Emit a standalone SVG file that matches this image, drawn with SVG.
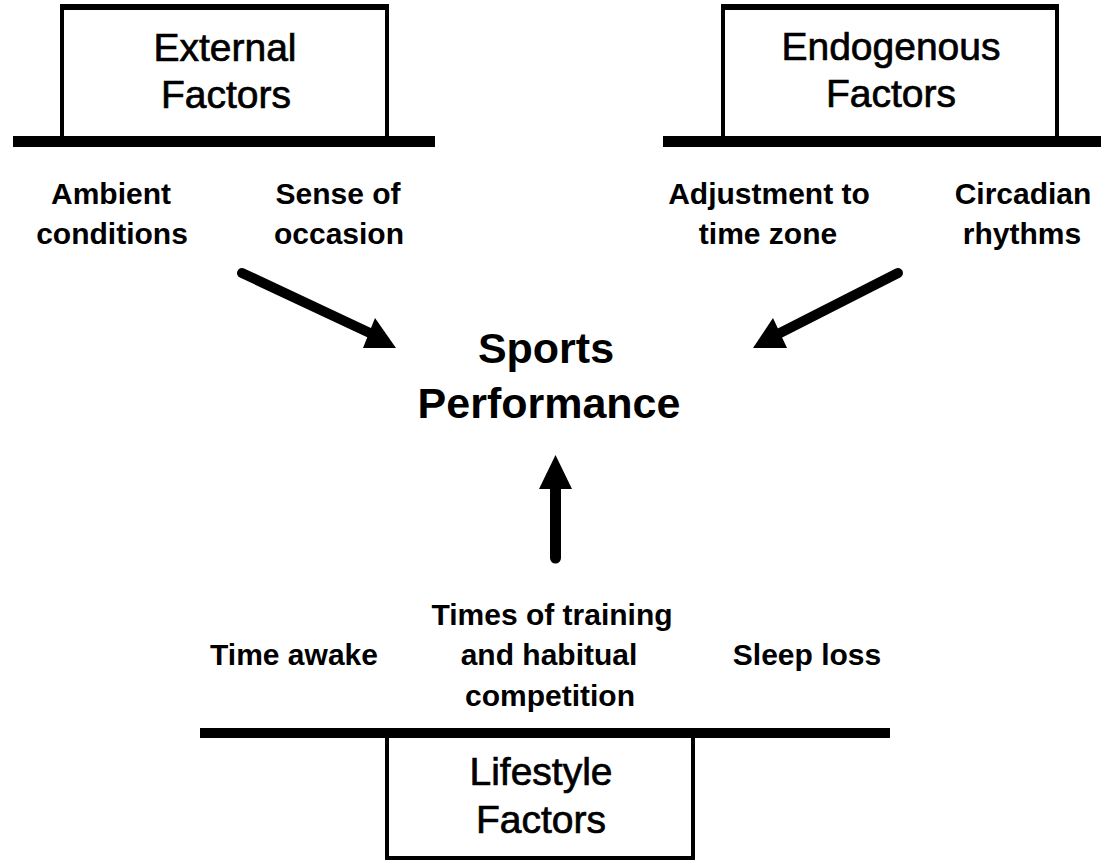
<svg xmlns="http://www.w3.org/2000/svg" width="1101" height="863" viewBox="0 0 1101 863">
<style>
.hdr{font-family:"Liberation Sans",Arial,sans-serif;font-size:39px;fill:#000;stroke:#000;stroke-width:0.7;text-anchor:middle}
.sub{font-family:"Liberation Sans",Arial,sans-serif;font-size:30px;font-weight:bold;fill:#000;text-anchor:middle}
.main{font-family:"Liberation Sans",Arial,sans-serif;font-size:43px;font-weight:bold;fill:#000;text-anchor:middle}
.box{fill:#fff;stroke:#000;stroke-width:4}
.bar{fill:#000}
.shaft{stroke:#000;stroke-width:10;stroke-linecap:round;fill:none}
.head{fill:#000}
</style>
<rect width="1101" height="863" fill="#fff"/>
<g id="external">
<rect class="box" x="62" y="8" width="325" height="132"/>
<rect class="bar" x="60" y="4" width="329" height="6"/>
<rect class="bar" x="13" y="136" width="422" height="11"/>
<text class="hdr" x="225" y="61">External</text>
<text class="hdr" x="226" y="108">Factors</text>
<text class="sub" x="111" y="204">Ambient</text>
<text class="sub" x="112" y="244">conditions</text>
<text class="sub" x="338" y="204">Sense of</text>
<text class="sub" x="339" y="244">occasion</text>
</g>
<g id="endogenous">
<rect class="box" x="723" y="8" width="334" height="132"/>
<rect class="bar" x="721" y="4" width="338" height="6"/>
<rect class="bar" x="663" y="136" width="438" height="11"/>
<text class="hdr" x="891" y="60">Endogenous</text>
<text class="hdr" x="891" y="107">Factors</text>
<text class="sub" x="769" y="204">Adjustment to</text>
<text class="sub" x="768" y="244">time zone</text>
<text class="sub" x="1023" y="204">Circadian</text>
<text class="sub" x="1022" y="244">rhythms</text>
</g>
<g id="sports">
<text class="main" x="546" y="363">Sports</text>
<text class="main" x="549" y="418">Performance</text>
</g>
<g id="lifestyle">
<rect class="box" x="387" y="730" width="306" height="128"/>
<rect class="bar" x="200" y="728" width="690" height="10"/>
<text class="hdr" x="541" y="785">Lifestyle</text>
<text class="hdr" x="541" y="833">Factors</text>
<text class="sub" x="552" y="625">Times of training</text>
<text class="sub" x="549" y="665">and habitual</text>
<text class="sub" x="550" y="706">competition</text>
<text class="sub" x="294" y="665">Time awake</text>
<text class="sub" x="807" y="665">Sleep loss</text>
</g>
<g id="connectors">
<line class="shaft" x1="242" y1="273" x2="372" y2="334"/>
<polygon class="head" points="375,318 396,348 363,348"/>
<line class="shaft" x1="898" y1="273" x2="780" y2="333"/>
<polygon class="head" points="773,318 753,348 787,348"/>
<line class="shaft" x1="555.5" y1="558" x2="555.5" y2="487" style="stroke-width:11"/>
<polygon class="head" points="555.5,455 539,489 572,489"/>
</g>
</svg>
